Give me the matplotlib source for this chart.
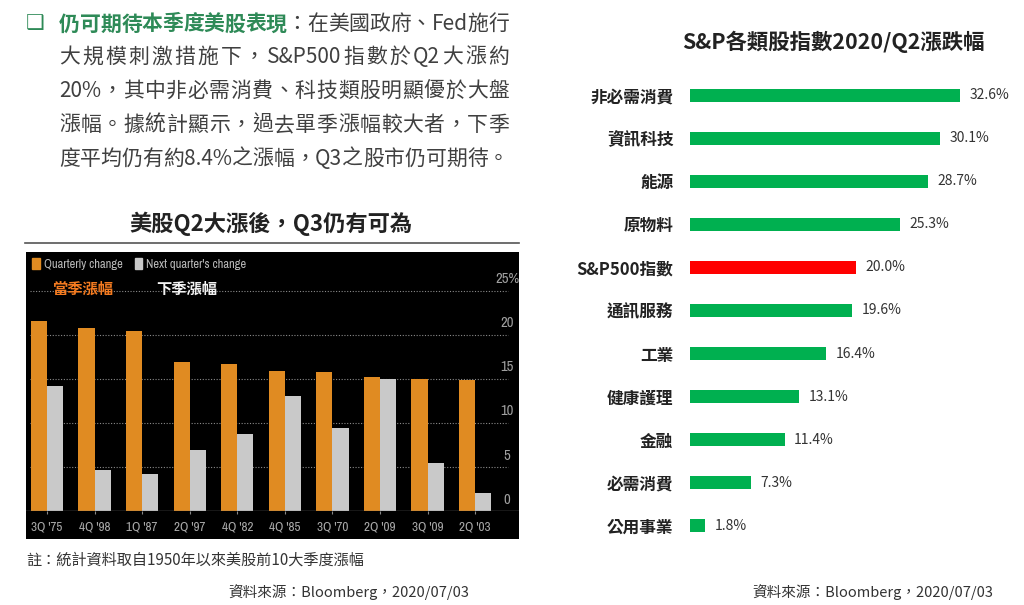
import re
import matplotlib
matplotlib.use("Agg")
import matplotlib.pyplot as plt
from matplotlib.patches import Rectangle, Patch

plt.rcParams['font.family'] = ['Noto Sans CJK TC', 'DejaVu Sans']
NARROW = ["Archivo Narrow", "DejaVu Sans"]

W, H = 1024, 605

# left chart: top 10 quarterly gains since 1950 and the following quarter
quarters = ["3Q '75", "4Q '98", "1Q '87", "2Q '97", "4Q '82",
            "4Q '85", "3Q '70", "2Q '09", "3Q '09", "2Q '03"]
quarterly_change = [21.6, 20.8, 20.4, 16.9, 16.7, 15.9, 15.8, 15.2, 15.0, 14.9]
next_change = [14.2, 4.6, 4.2, 6.9, 8.7, 13.1, 9.4, 15.0, 5.5, 2.1]
y_ticks = [0, 5, 10, 15, 20, 25]

# right chart: S&P sector returns 2020 Q2
sectors = ["非必需消費", "資訊科技", "能源", "原物料", "S&P500指數",
           "通訊服務", "工業", "健康護理", "金融", "必需消費", "公用事業"]
sector_change = [32.6, 30.1, 28.7, 25.3, 20.0, 19.6, 16.4, 13.1, 11.4, 7.3, 1.8]

body_lines = [
    [("仍可期待本季度美股表現", "#2e8a57", "bold"), ("：在美國政府、Fed施行", "#404040", "normal")],
    [("大規模刺激措施下，S&P500指數於Q2大漲約", "#404040", "normal")],
    [("20%，其中非必需消費、科技類股明顯優於大盤", "#404040", "normal")],
    [("漲幅。據統計顯示，過去單季漲幅較大者，下季", "#404040", "normal")],
    [("度平均仍有約8.4%之漲幅，Q3之股市仍可期待。", "#404040", "normal")],
]
line_y = [24, 57, 91, 125, 159]


def fx(px):
    return px / W


def fy(py):
    return 1 - py / H


fig = plt.figure(figsize=(W / 100, H / 100), dpi=100)
renderer = fig.canvas.get_renderer()


def justify(tokens, x0, x1, y, size):
    arts = []
    for s, c, w in tokens:
        for piece in re.findall(r"[A-Za-z0-9&.%]+|.", s):
            arts.append(fig.text(0, fy(y), piece, color=c, weight=w,
                                 fontsize=size, va="center", ha="left"))
    widths = [t.get_window_extent(renderer).width for t in arts]
    gap = (x1 - x0 - sum(widths)) / (len(arts) - 1)
    x = x0
    for t, w in zip(arts, widths):
        t.set_x(fx(x))
        x += w + gap


# bullet and paragraph
fig.text(fx(26), fy(23), "❑", family="DejaVu Sans", color="#2e8a57",
         fontsize=15, va="center", ha="left", weight="bold")
for toks, y in zip(body_lines, line_y):
    justify(toks, 59, 509, y, 15)

# left chart title and rule
fig.text(fx(271), fy(224), "美股Q2大漲後，Q3仍有可為", fontsize=16,
         weight="bold", color="#222222", ha="center", va="center")
fig.add_artist(plt.Line2D([fx(25), fx(519)], [fy(243), fy(243)],
                          color="#555555", lw=1.2))

# black panel background (incl. tick label strip)
fig.add_artist(Rectangle((fx(26), fy(539)), fx(493), 287 / H,
                         facecolor="black", edgecolor="none", zorder=-5))

ax = fig.add_axes([fx(26), fy(511), fx(493), (511 - 252) / H])
ax.set_facecolor("black")
x = range(len(quarters))
ax.bar([i - 0.17 for i in x], quarterly_change, width=0.34, color="#e08b22")
ax.bar([i + 0.17 for i in x], next_change, width=0.34, color="#c9c9c9")
ax.set_xlim(-0.44, 9.92)
ax.set_ylim(0, 29.4)
for v in y_ticks[1:]:
    ax.axhline(v, xmin=0.008, xmax=0.978, color="#8a8a8a", lw=0.8,
               ls=(0, (1, 1.5)), zorder=0)
ax.axhline(0, color="#777777", lw=1)
for v in y_ticks:
    lab = f"{v}%" if v == 25 else str(v)
    ax.text(0.976, v + 1.3, lab, transform=ax.get_yaxis_transform(),
            ha="center", va="center", color="#a0a0a0", fontsize=10.5,
            family=NARROW)
ax.set_yticks([])
ax.set_xticks(list(x))
ax.set_xticklabels(quarters, color="#a8a8a8", fontsize=9.5, family=NARROW)
ax.tick_params(axis="x", length=2.5, color="#888888", pad=5)
for s in ax.spines.values():
    s.set_visible(False)

handles = [Patch(color="#e08b22"), Patch(color="#c9c9c9")]
ax.legend(handles, ["Quarterly change", "Next quarter's change"],
          loc="upper left", bbox_to_anchor=(0.0, 1.0), ncol=2,
          frameon=False, labelcolor="#b8b8b8",
          handlelength=0.6, handleheight=0.9, handletextpad=0.3,
          columnspacing=1.0, borderpad=0.3, borderaxespad=0.2,
          prop={"family": NARROW, "size": 9})
ax.text(0.76, 25.2, "當季漲幅", color="#f47b20", fontsize=11,
        weight="bold", ha="center", va="center")
ax.text(2.94, 25.2, "下季漲幅", color="#f2f2f2", fontsize=11,
        weight="bold", ha="center", va="center")

fig.text(fx(26), fy(560), "註：統計資料取自1950年以來美股前10大季度漲幅",
         fontsize=10.9, color="#333333", ha="left", va="center")
fig.text(fx(349), fy(592), "資料來源：Bloomberg，2020/07/03",
         fontsize=10.5, color="#333333", ha="center", va="center")

# right chart
fig.text(fx(833), fy(42), "S&P各類股指數2020/Q2漲跌幅", fontsize=15.4,
         weight="bold", color="#222222", ha="center", va="center")
bx = fig.add_axes([fx(690), fy(547.5), fx(320), (547.5 - 73.5) / H])
colors = ["#ff0000" if s == "S&P500指數" else "#00b050" for s in sectors]
pos = list(range(len(sectors)))
bx.barh(pos, sector_change, height=0.3, color=colors)
bx.set_ylim(len(sectors) - 0.5, -0.5)
bx.set_xlim(0, 38.6)
bx.set_yticks(pos)
bx.set_yticklabels(sectors, fontsize=12, weight="bold", color="#222222")
bx.tick_params(axis="y", length=0, pad=12)
bx.set_xticks([])
for s in bx.spines.values():
    s.set_visible(False)
for p, v in zip(pos, sector_change):
    bx.annotate(f"{v:.1f}%", (v, p), xytext=(7, 0), textcoords="offset points",
                ha="left", va="center", fontsize=10, color="#333333")

fig.text(fx(873), fy(592), "資料來源：Bloomberg，2020/07/03",
         fontsize=10.5, color="#333333", ha="center", va="center")

fig.savefig("out.png", dpi=100)
